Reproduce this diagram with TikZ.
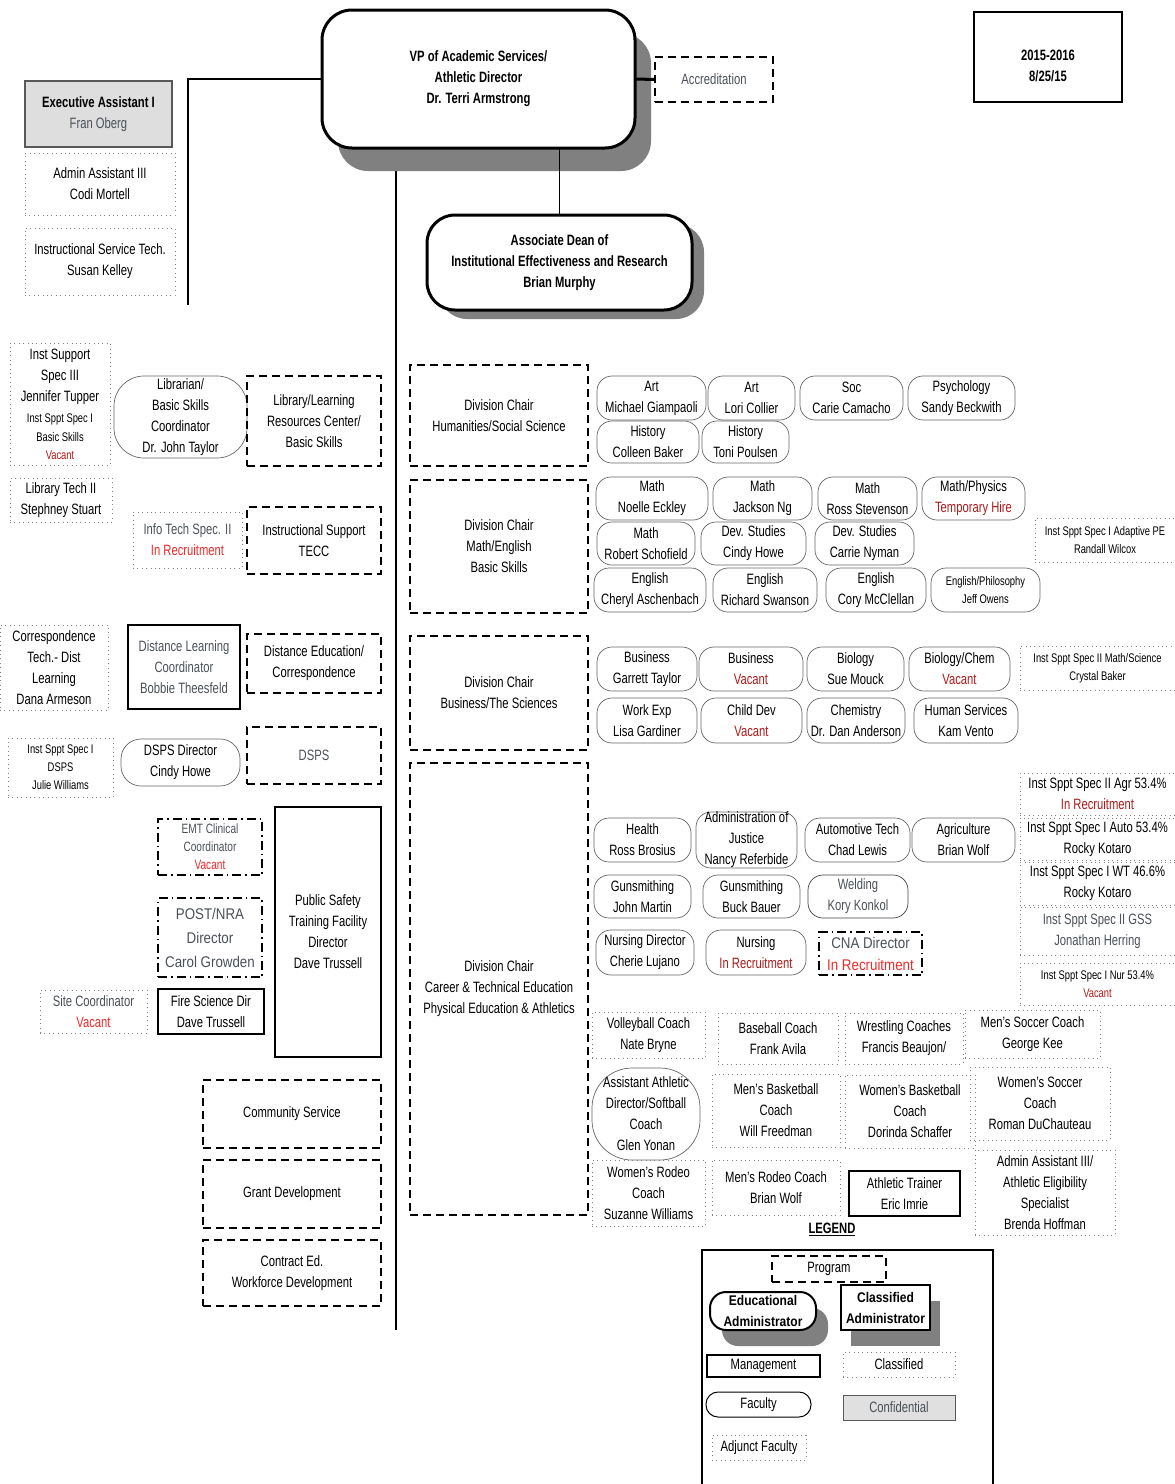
\documentclass[tikz,border=0pt]{standalone}
\usepackage{fontspec}
\setmainfont{Liberation Sans}[FakeStretch=0.75]
\newfontfamily\widefont{Liberation Sans}[FakeStretch=0.86]
\usetikzlibrary{shadows}
\definecolor{dred}{HTML}{B01818}
\definecolor{bred}{HTML}{F02828}
\definecolor{gtx}{HTML}{4A5058}
\newcommand\fs{\fontsize{15}{21}\selectfont}
\newcommand\fss{\fontsize{12.5}{18}\selectfont}
\newcommand\fsw{\widefont\fontsize{15.5}{24}\selectfont}
\newcommand\obox[7]{%
 \pgfmathsetmacro\bxw{#5-#3}%
 \pgfmathsetmacro\bxh{#6-#4}%
 \pgfmathsetmacro\bxx{(#3+#5)/2}%
 \pgfmathsetmacro\bxy{(#4+#6)/2}%
 \node[#2,minimum width=\bxw pt,minimum height=\bxh pt] (#1) at (\bxx,\bxy) {#7};}
\pgfdeclarelayer{bg}\pgfsetlayers{bg,main}
\tikzset{
 txt/.style={align=center,inner sep=0pt,outer sep=0pt,font=\fs},
 fac/.style={txt,draw=black!60,line width=0.7pt,rounded corners=15pt},
 cls/.style={txt,draw=black!50,line width=0.8pt,dash pattern=on 0.8pt off 3.6pt},
 prog/.style={txt,draw,line width=1.2pt,dash pattern=on 8pt off 5pt},
 progdd/.style={txt,draw,line width=1.3pt,dash pattern=on 9pt off 4pt on 1.5pt off 4pt},
 mgmt/.style={txt,draw,line width=1.5pt},
 conf/.style={txt,draw=black!65,fill=black!12,line width=1pt},
 admin/.style={txt,draw,fill=white,line width=3pt,font=\fs\bfseries},
 conn/.style={line width=1.5pt},
}
\begin{document}
\begin{tikzpicture}[x=1pt,y=-1pt]
\useasboundingbox (0,0) rectangle (1175,1484);
% ---------- top ----------
\obox{vp}{admin,rounded corners=30pt,drop shadow={shadow xshift=16pt,shadow yshift=-23pt,fill=black!50,opacity=1}}{322}{10}{635}{148}{VP of Academic Services/\\Athletic Director\\Dr. Terri Armstrong}
\obox{acc}{prog}{655}{57}{773}{102}{\color{gtx}Accreditation}
\obox{date}{mgmt,line width=1.2pt}{974}{12}{1122}{102}{}
\node[txt,font=\fs\bfseries] (datetxt) at ([yshift=-9pt]date.center) {2015-2016\\8/25/15};
\obox{exec}{txt,draw=black!65,fill=black!13,line width=1.3pt}{25}{81}{172}{147}{\textbf{Executive Assistant I}\\{\color{gtx}Fran Oberg}}
\obox{codi}{cls}{25}{153}{175}{215}{Admin Assistant III\\Codi Mortell}
\obox{susan}{cls}{25}{228}{175}{295}{Instructional Service Tech.\\Susan Kelley}
\obox{dean}{admin,rounded corners=28pt,drop shadow={shadow xshift=12pt,shadow yshift=-9pt,fill=black!50,opacity=1}}{427}{215}{692}{310}{Associate Dean of\\Institutional Effectiveness and Research\\Brian Murphy}
% ---------- left column ----------
\obox{jen}{cls}{10}{343}{110}{465}{Inst Support\\Spec III\\Jennifer Tupper\\{\fss Inst Sppt Spec I}\\[-2pt]{\fss Basic Skills}\\[-3pt]{\fss\color{dred}Vacant}}
\obox{libr}{fac,rounded corners=30pt}{114}{376}{247}{458}{Librarian/\\Basic Skills\\Coordinator\\Dr. John Taylor}
\obox{lrc}{prog}{247}{376}{381}{466}{Library/Learning\\Resources Center/\\Basic Skills}
\obox{steph}{cls}{10}{478}{112}{522}{Library Tech II\\Stephney Stuart}
\obox{itech}{cls}{133}{512}{242}{568}{{\color{gtx}Info Tech Spec. II}\\{\color{bred}In Recruitment}}
\obox{tecc}{prog}{247}{507}{381}{574}{Instructional Support\\TECC}
\obox{dana}{cls}{0}{625}{108}{710}{Correspondence\\Tech.- Dist\\Learning\\Dana Armeson}
\obox{bobbie}{mgmt}{128}{625}{240}{709}{\color{gtx}Distance Learning\\\color{gtx}Coordinator\\\color{gtx}Bobbie Theesfeld}
\obox{disted}{prog}{247}{634}{381}{693}{Distance Education/\\Correspondence}
\obox{julie}{cls,font=\fss}{8}{738}{113}{797}{Inst Sppt Spec I\\DSPS\\Julie Williams}
\obox{dspsdir}{fac,rounded corners=20pt}{121}{739}{240}{786}{DSPS Director\\Cindy Howe}
\obox{dsps}{prog}{247}{727}{381}{784}{\color{gtx}DSPS}
\obox{emt}{progdd,font={\fontsize{13.5}{18}\selectfont}}{158}{819}{262}{875}{{\color{gtx}EMT Clinical}\\{\color{gtx}Coordinator}\\{\color{bred}Vacant}}
\obox{post}{progdd,font=\fsw}{158}{898}{262}{977}{\color{gtx}POST/NRA\\\color{gtx}Director\\\color{gtx}Carol Growden}
\obox{pstf}{mgmt}{275}{807}{381}{1057}{Public Safety\\Training Facility\\Director\\Dave Trussell}
\obox{site}{cls}{40}{990}{147}{1033}{{\color{gtx}Site Coordinator}\\{\color{bred}Vacant}}
\obox{fire}{mgmt}{158}{989}{264}{1034}{Fire Science Dir\\Dave Trussell}
\obox{comm}{prog}{203}{1080}{381}{1148}{Community Service}
\obox{grant}{prog}{203}{1160}{381}{1228}{Grant Development}
\obox{contract}{prog}{203}{1240}{381}{1306}{Contract Ed.\\Workforce Development}
% ---------- division chairs ----------
\obox{hum}{prog}{410}{365}{588}{466}{Division Chair\\Humanities/Social Science}
\obox{mathdiv}{prog}{410}{480}{588}{613}{Division Chair\\Math/English\\Basic Skills}
\obox{busdiv}{prog}{410}{636}{588}{750}{Division Chair\\Business/The Sciences}
\obox{ctediv}{prog}{410}{763}{588}{1215}{Division Chair\\Career \& Technical Education\\Physical Education \& Athletics}
% ---------- humanities ----------
\obox{art1}{fac}{597}{376}{706}{420}{Art\\Michael Giampaoli}
\obox{art2}{fac}{708}{376}{795}{420}{Art\\Lori Collier}
\obox{soc}{fac}{800}{376}{903}{420}{Soc\\Carie Camacho}
\obox{psy}{fac}{908}{376}{1015}{420}{Psychology\\Sandy Beckwith}
\obox{his1}{fac}{597}{421}{699}{463}{History\\Colleen Baker}
\obox{his2}{fac}{702}{421}{789}{463}{History\\Toni Poulsen}
% ---------- math / english ----------
\obox{math1}{fac}{596}{477}{708}{520}{Math\\Noelle Eckley}
\obox{math2}{fac}{713}{477}{812}{520}{Math\\Jackson Ng}
\obox{math3}{fac}{818}{477}{917}{520}{Math\\Ross Stevenson}
\obox{mphys}{fac}{922}{477}{1025}{520}{Math/Physics\\{\color{dred}Temporary Hire}}
\obox{math4}{fac}{597}{522}{695}{565}{Math\\Robert Schofield}
\obox{dev1}{fac}{701}{522}{806}{565}{Dev. Studies\\Cindy Howe}
\obox{dev2}{fac}{815}{522}{914}{565}{Dev. Studies\\Carrie Nyman}
\obox{eng1}{fac}{594}{568}{706}{612}{English\\Cheryl Aschenbach}
\obox{eng2}{fac}{713}{568}{817}{612}{English\\Richard Swanson}
\obox{eng3}{fac}{826}{568}{926}{612}{English\\Cory McClellan}
\obox{engphil}{fac,font=\fss}{931}{568}{1040}{612}{English/Philosophy\\Jeff Owens}
\obox{adapt}{cls,font=\fss}{1035}{518}{1175}{562}{Inst Sppt Spec I Adaptive PE\\Randall Wilcox}
% ---------- business / sciences ----------
\obox{bus1}{fac}{597}{647}{697}{691}{Business\\Garrett Taylor}
\obox{bus2}{fac}{699}{647}{803}{691}{Business\\{\color{dred}Vacant}}
\obox{bio}{fac}{807}{647}{904}{691}{Biology\\Sue Mouck}
\obox{biochem}{fac}{909}{647}{1010}{691}{Biology/Chem\\{\color{dred}Vacant}}
\obox{work}{fac}{597}{698}{697}{743}{Work Exp\\Lisa Gardiner}
\obox{child}{fac}{701}{698}{802}{743}{Child Dev\\{\color{dred}Vacant}}
\obox{chem}{fac}{807}{698}{905}{743}{Chemistry\\Dr. Dan Anderson}
\obox{human}{fac}{914}{698}{1018}{743}{Human Services\\Kam Vento}
\obox{crystal}{cls,font=\fss}{1020}{646}{1175}{690}{Inst Sppt Spec II Math/Science\\Crystal Baker}
% ---------- CTE ----------
\obox{health}{fac}{594}{818}{691}{862}{Health\\Ross Brosius}
\obox{justice}{fac}{696}{812}{797}{868}{Administration of\\Justice\\Nancy Referbide}
\obox{auto}{fac}{805}{818}{910}{862}{Automotive Tech\\Chad Lewis}
\obox{agri}{fac}{912}{818}{1015}{862}{Agriculture\\Brian Wolf}
\obox{gun1}{fac}{594}{875}{691}{918}{Gunsmithing\\John Martin}
\obox{gun2}{fac}{703}{875}{800}{918}{Gunsmithing\\Buck Bauer}
\obox{weld}{fac,draw=black!75}{808}{875}{908}{918}{\color{gtx}Welding\\\color{gtx}Kory Konkol}
\obox{nurdir}{fac}{596}{930}{694}{975}{Nursing Director\\Cherie Lujano}
\obox{nurs}{fac}{706}{930}{806}{975}{Nursing\\{\color{dred}In Recruitment}}
\obox{cna}{progdd,font={\widefont\fontsize{15.5}{22}\selectfont}}{819}{932}{922}{975}{{\color{gtx}CNA Director}\\{\color{bred}In Recruitment}}
\obox{agr}{cls}{1020}{773}{1175}{815}{Inst Sppt Spec II Agr 53.4\%\\{\color{dred}In Recruitment}}
\obox{autos}{cls}{1020}{818}{1175}{860}{Inst Sppt Spec I Auto 53.4\%\\Rocky Kotaro}
\obox{wt}{cls}{1020}{862}{1175}{905}{Inst Sppt Spec I WT 46.6\%\\Rocky Kotaro}
\obox{gss}{cls}{1020}{907}{1175}{955}{\color{gtx}Inst Sppt Spec II GSS\\\color{gtx}Jonathan Herring}
\obox{nur}{cls,font=\fss}{1020}{963}{1175}{1005}{Inst Sppt Spec I Nur 53.4\%\\{\color{dred}Vacant}}
% ---------- athletics ----------
\obox{vb}{cls}{592}{1012}{705}{1058}{Volleyball Coach\\Nate Bryne}
\obox{bball}{cls}{718}{1013}{838}{1064}{Baseball Coach\\Frank Avila}
\obox{wres}{cls}{845}{1013}{963}{1064}{Wrestling Coaches\\Francis Beaujon/}
\obox{msoc}{cls}{965}{1010}{1100}{1058}{Men's Soccer Coach\\George Kee}
\obox{aad}{fac,rounded corners=40pt}{592}{1068}{700}{1160}{Assistant Athletic\\Director/Softball\\Coach\\Glen Yonan}
\obox{mbb}{cls}{712}{1074}{840}{1147}{Men's Basketball\\Coach\\Will Freedman}
\obox{wbb}{cls}{845}{1075}{975}{1148}{Women's Basketball\\Coach\\Dorinda Schaffer}
\obox{wsoc}{cls}{970}{1067}{1110}{1140}{Women's Soccer\\Coach\\Roman DuChauteau}
\obox{wrodeo}{cls}{592}{1160}{705}{1226}{Women's Rodeo\\Coach\\Suzanne Williams}
\obox{mrodeo}{cls}{712}{1160}{840}{1215}{Men's Rodeo Coach\\Brian Wolf}
\obox{trainer}{mgmt}{849}{1171}{960}{1216}{Athletic Trainer\\Eric Imrie}
\obox{brenda}{cls}{975}{1150}{1115}{1235}{Admin Assistant III/\\Athletic Eligibility\\Specialist\\Brenda Hoffman}
% ---------- legend ----------
\node[txt,font=\fs\bfseries] (legend) at (832,1229) {\underline{LEGEND}};
\draw[line width=1.2pt] (702,1484) -- (702,1250) -- (993,1250) -- (993,1484);
\obox{lprog}{prog}{772}{1256}{886}{1282}{Program}
\obox{ledu}{admin,line width=2pt,rounded corners=16pt,font={\widefont\fontsize{14}{21}\selectfont\bfseries},drop shadow={shadow xshift=12pt,shadow yshift=-16pt,fill=black!50,opacity=1}}{710}{1292}{816}{1330}{Educational\\Administrator}
\obox{lcls}{admin,line width=2pt,font={\widefont\fontsize{14}{21}\selectfont\bfseries},drop shadow={shadow xshift=10pt,shadow yshift=-16pt,fill=black!50,opacity=1}}{841}{1285}{930}{1330}{Classified\\Administrator}
\obox{lmgmt}{mgmt}{707}{1355}{820}{1377}{Management}
\obox{lclass}{cls}{843}{1352}{955}{1377}{Classified}
\obox{lfac}{fac,rounded corners=12pt,line width=1pt,draw=black}{706}{1392}{811}{1417}{Faculty}
\obox{lconf}{conf}{843}{1395}{955}{1420}{\color{gtx}Confidential}
\obox{ladj}{cls}{712}{1435}{806}{1460}{Adjunct Faculty}
% ---------- connectors ----------
\coordinate (exend) at (188,305);
\coordinate (vbot) at (396,1330);
\begin{pgfonlayer}{bg}
\draw[line width=2.5pt] (vp.south -| vbot) -- (vbot);
\end{pgfonlayer}
\draw[conn] (vp.west) -- (vp.west -| exend) -- (exend);
\draw[line width=3pt] (vp.east) -- (acc.west);
\draw[conn] (vp.south -| dean.north) -- (dean.north);
\end{tikzpicture}
\end{document}
